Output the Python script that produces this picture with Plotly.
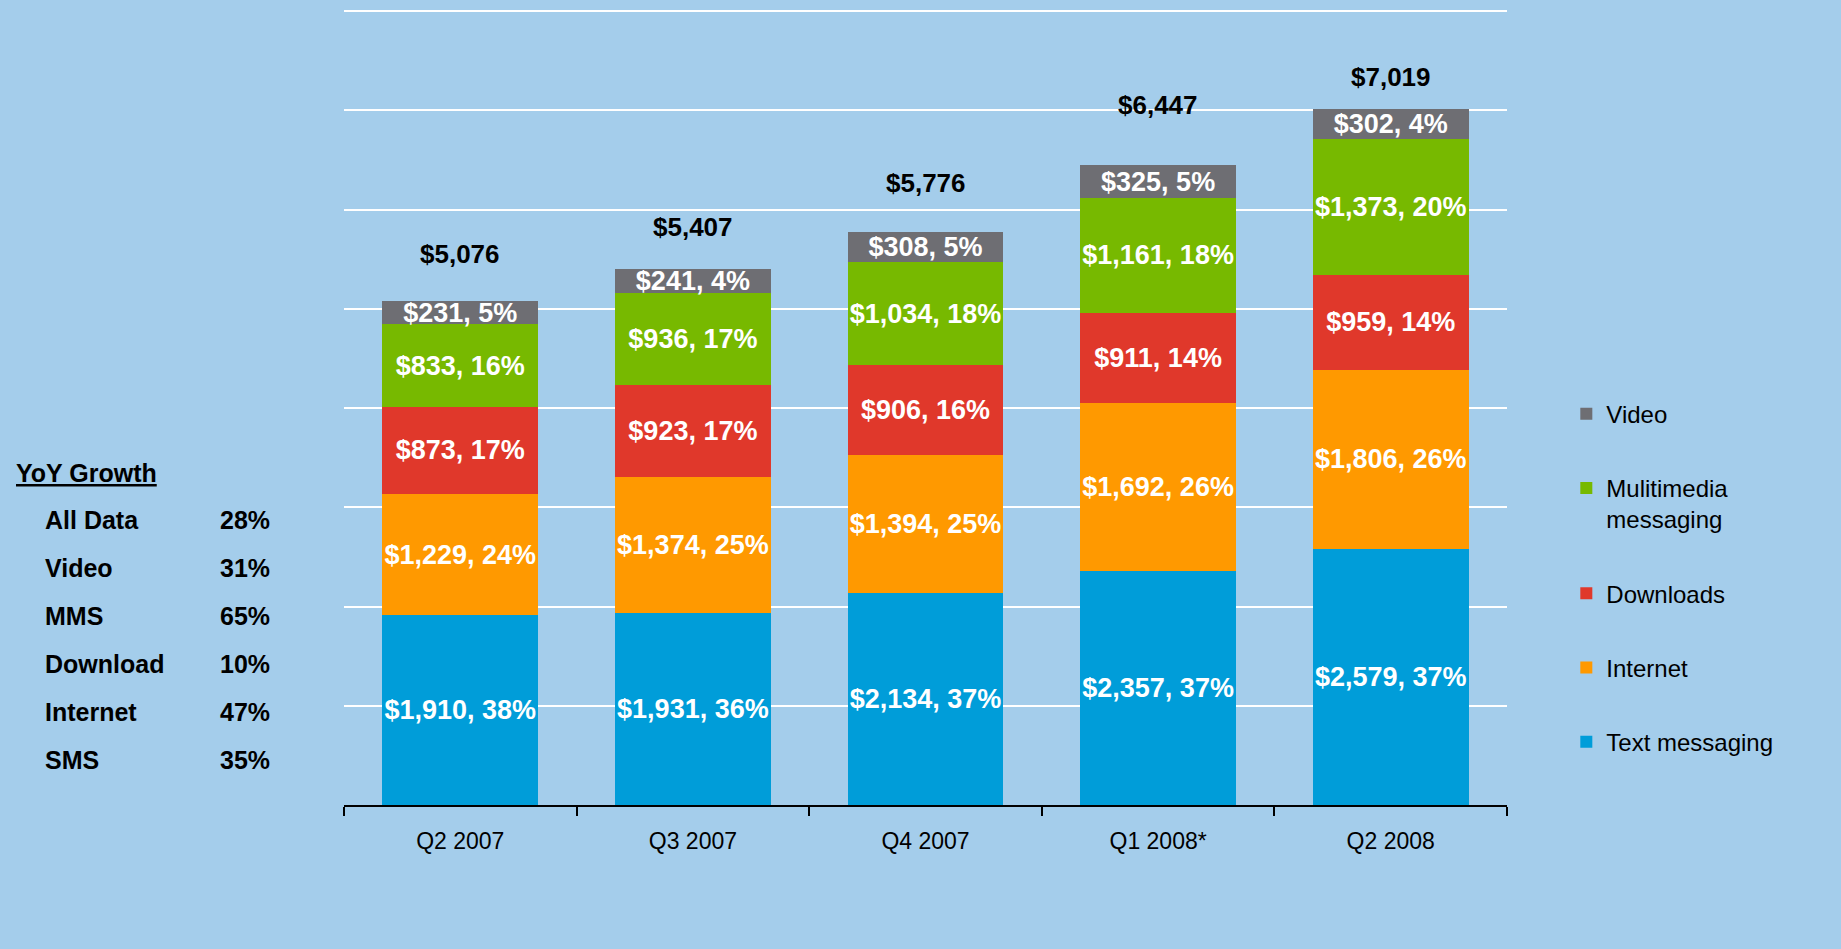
import plotly.graph_objects as go

quarters = ["Q2 2007", "Q3 2007", "Q4 2007", "Q1 2008*", "Q2 2008"]

text_msg = [1910, 1931, 2134, 2357, 2579]
internet = [1229, 1374, 1394, 1692, 1806]
downloads = [873, 923, 906, 911, 959]
mms = [833, 936, 1034, 1161, 1373]
video = [231, 241, 308, 325, 302]

text_pct = [38, 36, 37, 37, 37]
internet_pct = [24, 25, 25, 26, 26]
downloads_pct = [17, 17, 16, 14, 14]
mms_pct = [16, 17, 18, 18, 20]
video_pct = [5, 4, 5, 5, 4]

totals = [5076, 5407, 5776, 6447, 7019]

yoy_labels = ["All Data", "Video", "MMS", "Download", "Internet", "SMS"]
yoy_values = ["28%", "31%", "65%", "10%", "47%", "35%"]

BG = "#A4CDEB"
FONT = "Liberation Sans, Arial, sans-serif"

series = [
    ("Text messaging", text_msg, text_pct, "#009DD9"),
    ("Internet", internet, internet_pct, "#FF9900"),
    ("Downloads", downloads, downloads_pct, "#E0382B"),
    ("Mulitimedia<br>messaging", mms, mms_pct, "#77B900"),
    ("Video", video, video_pct, "#6E6E73"),
]

fig = go.Figure()
for k, (name, vals, pcts, col) in enumerate(series):
    fig.add_trace(go.Bar(
        x=quarters, y=vals, name=name, legendgroup=name,
        legendrank=len(series) - k,  # Video on top of the legend
        marker=dict(color=col, line=dict(width=0)),
        text=[f"<b>${v:,}, {p}%</b>" for v, p in zip(vals, pcts)],
        textposition="inside", insidetextanchor="middle", constraintext="none",
        textangle=0,
        textfont=dict(color="white", size=27, family=FONT),
        hoverinfo="skip",
    ))

# totals above each stack (label heights vary a little in the original)
lift = [47, 41, 49, 60, 32]
for q, t, dy in zip(quarters, totals, lift):
    fig.add_annotation(x=q, y=t, text=f"<b>${t:,}</b>", showarrow=False,
                       yshift=dy, font=dict(size=26, color="black", family=FONT))

# YoY growth side panel
L, T, H = 344, 10, 795  # plot area px
def px(x):
    return (x - L) / 1163
def py(y):
    return (T + H - y) / H

side_font = dict(size=25, color="black", family=FONT)
fig.add_annotation(xref="paper", yref="paper", x=px(14), y=py(473),
                   xanchor="left", yanchor="middle",
                   text="<b><u>YoY Growth</u></b>", showarrow=False, font=side_font)
for i, (lab, val) in enumerate(zip(yoy_labels, yoy_values)):
    yy = py(520 + i * 48)
    fig.add_annotation(xref="paper", yref="paper", x=px(43), y=yy,
                       xanchor="left", yanchor="middle",
                       text=f"<b>{lab}</b>", showarrow=False, font=side_font)
    fig.add_annotation(xref="paper", yref="paper", x=px(218), y=yy,
                       xanchor="left", yanchor="middle",
                       text=f"<b>{val}</b>", showarrow=False, font=side_font)

fig.update_layout(
    barmode="stack", bargap=0.33,
    width=1841, height=949,
    paper_bgcolor=BG, plot_bgcolor=BG,
    margin=dict(l=L, r=334, t=T, b=949 - T - H),
    font=dict(family=FONT, color="black"),
    showlegend=True,
    legend=dict(x=1.051, y=0.52, xanchor="left", yanchor="top",
                traceorder="grouped", tracegroupgap=40, valign="top",
                font=dict(size=24, color="black", family=FONT),
                bgcolor="rgba(0,0,0,0)"),
)
fig.update_xaxes(showline=True, linecolor="black", linewidth=2,
                 ticks="outside", tickson="boundaries", ticklen=9, tickwidth=1.5,
                 tickcolor="black", ticklabelstandoff=14,
                 tickfont=dict(size=23, color="black", family=FONT),
                 showgrid=False)
fig.update_yaxes(range=[0, 8012], dtick=1000, showticklabels=False,
                 showgrid=True, gridcolor="white", gridwidth=2,
                 zeroline=False, showline=False)

fig.write_html("out.html", config={"displayModeBar": False},
               post_script="document.body.style.margin='0';")
